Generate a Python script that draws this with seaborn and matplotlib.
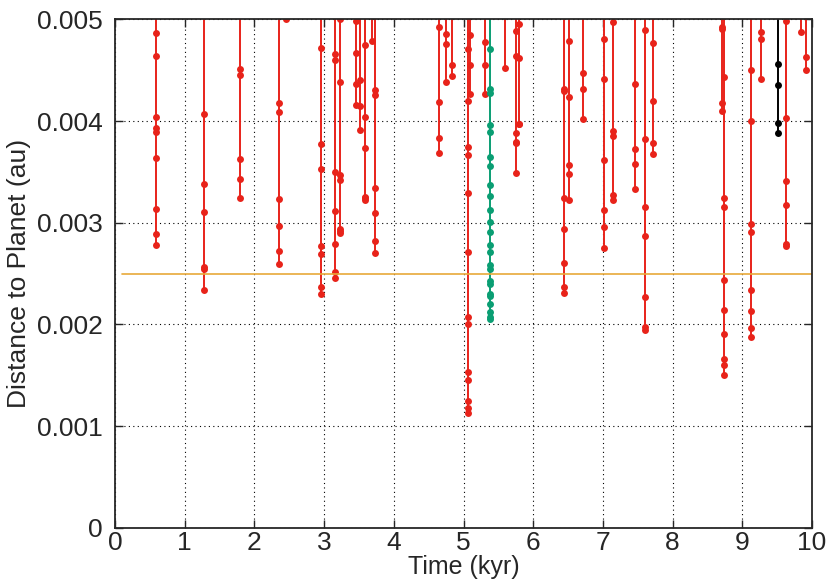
import pandas as pd
import seaborn as sns
import matplotlib.pyplot as plt
from matplotlib.ticker import FuncFormatter

# close encounters: time (kyr) and the sampled distances (au, x1e-3)
enc_time = [0.584, 1.277, 1.789, 2.353, 2.458, 2.950, 3.160, 3.232, 3.453, 3.520,
            3.587, 3.683, 3.735, 4.644, 4.753, 4.840, 5.065, 5.098, 5.309, 5.375,
            5.590, 5.753, 5.790, 6.447, 6.509, 6.714, 7.016, 7.150, 7.465, 7.609,
            7.723, 8.709, 8.742, 9.125, 9.273, 9.507, 9.622, 9.847, 9.909]
enc_dist = [
    [4.862, 4.642, 4.036, 3.928, 3.892, 3.636, 3.132, 2.889, 2.778],
    [4.066, 3.378, 3.102, 2.567, 2.548, 2.338],
    [4.508, 4.455, 3.623, 3.433, 3.243],
    [4.177, 4.091, 3.236, 2.968, 2.719, 2.597],
    [5.000],
    [4.721, 3.774, 3.531, 2.774, 2.695, 2.365, 2.299],
    [4.662, 4.597, 3.499, 3.118, 2.788, 2.518, 2.453],
    [5.000, 4.386, 3.469, 3.423, 2.941, 2.921, 2.902],
    [4.983, 4.672, 4.361, 4.154],
    [4.400, 4.150, 3.914],
    [4.744, 4.042, 3.732, 3.256, 3.240, 3.223],
    [4.784],
    [4.305, 4.253, 3.341, 3.098, 2.820, 2.705],
    [4.927, 4.187, 3.833, 3.685],
    [4.855, 4.760, 4.386],
    [4.551, 4.442],
    [4.705, 4.200, 3.747, 3.663, 3.289, 2.709, 2.070, 2.004, 1.535, 1.450, 1.247, 1.178, 1.126],
    [4.849, 4.551, 4.263],
    [4.774, 4.551, 4.269],
    [4.705, 4.315, 4.275, 3.964, 3.895, 3.649, 3.558, 3.374, 3.260, 3.125, 3.004, 2.906,
     2.778, 2.709, 2.584, 2.548, 2.430, 2.397, 2.299, 2.279, 2.198, 2.122, 2.076, 2.050],
    [4.518],
    [4.888, 4.639, 3.885, 3.797, 3.781, 3.492],
    [4.951, 4.617, 3.974, 3.968],
    [4.312, 4.292, 3.246, 2.935, 2.607, 2.371, 2.306],
    [4.790, 4.233, 3.567, 3.476, 3.223],
    [4.472, 4.318, 4.023],
    [4.809, 4.410, 3.617, 3.125, 2.955, 2.751],
    [4.973, 3.902, 3.855, 3.275, 3.223],
    [4.361, 3.722, 3.577, 3.328],
    [4.892, 3.826, 3.151, 2.872, 2.272, 1.971, 1.945],
    [4.764, 4.200, 3.781, 3.673],
    [4.927, 4.905, 4.180, 4.095],
    [4.436, 3.246, 3.154, 2.437, 2.142, 1.903, 1.657, 1.601, 1.505],
    [4.498, 3.997, 2.987, 2.906, 2.335, 2.135, 1.968, 1.879],
    [4.875, 4.803, 4.413],
    [4.560, 4.354, 3.983, 3.879],
    [4.980, 4.029, 3.413, 3.177, 2.791, 2.771],
    [4.878],
    [4.632, 4.498],
]
enc_kind = ['other'] * len(enc_time)
enc_kind[19] = 'green'
enc_kind[35] = 'black'
entry_dist = 5.4   # encounters come in from beyond the plotted range

hill_time = [0.1, 10.0]
hill_dist = [0.0025, 0.0025]

rows = []
for i, (t, ds) in enumerate(zip(enc_time, enc_dist)):
    for d in [entry_dist] + ds:
        rows.append({'time': t, 'dist': d * 1e-3, 'enc': i, 'kind': enc_kind[i]})
df = pd.DataFrame(rows)

sns.set_style("ticks")
plt.rcParams['font.family'] = ['Liberation Sans', 'DejaVu Sans']

fig = plt.figure(figsize=(8.32, 5.85), dpi=100)
ax = fig.add_axes([0.1382, 0.0978, 0.8378, 0.8692])

palette = {'other': '#e8231a', 'green': '#0a9e73', 'black': '#000000'}
sns.lineplot(data=df, x='time', y='dist', hue='kind', units='enc', estimator=None,
             sort=False, palette=palette, marker='o', markersize=5,
             markeredgewidth=0, linewidth=1.4, legend=False, ax=ax)
sns.lineplot(x=hill_time, y=hill_dist, color='#e8a93a', linewidth=1.2, ax=ax)

ax.set_xlim(0, 10)
ax.set_ylim(0, 0.005)
ax.set_xticks(range(0, 11))
ax.set_yticks([0, 0.001, 0.002, 0.003, 0.004, 0.005])
ax.yaxis.set_major_formatter(FuncFormatter(lambda v, p: '%g' % round(v, 4)))
ax.grid(True, color='black', linestyle=(0, (1, 3)), linewidth=0.8)
ax.tick_params(direction='in', length=6, width=1, labelsize=19, top=True, right=True)
ax.tick_params(axis='y', pad=9)
ax.tick_params(axis='x', pad=2)
for s in ax.spines.values():
    s.set_linewidth(1.3)
    s.set_visible(True)

ax.set_xlabel('Time (kyr)', fontsize=18, labelpad=0)
ax.set_ylabel('Distance to Planet (au)', fontsize=19, labelpad=4)

plt.savefig('out.png', dpi=100)
